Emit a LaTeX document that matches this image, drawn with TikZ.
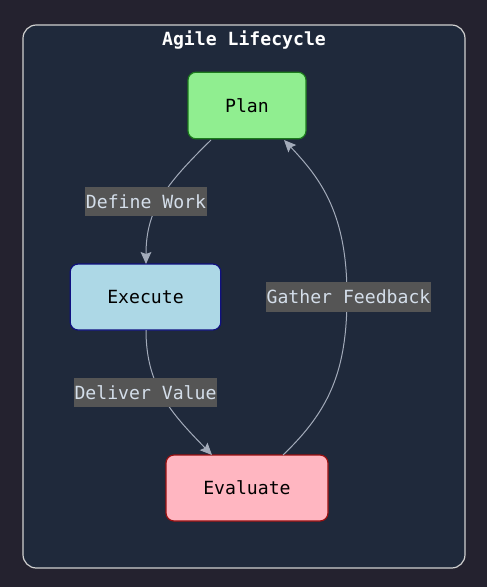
\documentclass[tikz,border=0pt]{standalone}
\usepackage{fontspec}
\setmonofont{DejaVu Sans Mono}
\usetikzlibrary{arrows.meta}
\definecolor{pagebg}{HTML}{24222F}
\definecolor{clusterbg}{HTML}{1F293B}
\definecolor{clusterline}{HTML}{D0D0D0}
\definecolor{edgecol}{HTML}{A3ABBA}
\definecolor{lblbg}{HTML}{555555}
\definecolor{lbltext}{HTML}{D4DEEA}
\definecolor{planfill}{HTML}{90EE90}
\definecolor{planline}{HTML}{1C7A1C}
\definecolor{execfill}{HTML}{ADD8E6}
\definecolor{execline}{HTML}{101080}
\definecolor{evalfill}{HTML}{FFB6C1}
\definecolor{evalline}{HTML}{9B1010}
\tikzset{
  box/.style={draw, line width=0.9pt, rounded corners=6pt, inner sep=0pt,
    font=\ttfamily\fontsize{13.6}{15}\selectfont, text=black},
  edgelbl/.style={fill=lblbg, text=lbltext, inner sep=0pt, minimum height=22pt,
    font=\ttfamily\fontsize{13.6}{15}\selectfont},
  conn/.style={draw=edgecol, line width=0.75pt, -{Stealth[length=9pt,width=8pt,inset=1.5pt,fill=edgecol]}}
}
\begin{document}
\begin{tikzpicture}[x=0.75pt,y=-0.75pt]
\fill[pagebg] (0,0) rectangle (487,587);
\useasboundingbox (0,0) rectangle (487,587);
\draw[clusterline, fill=clusterbg, line width=0.9pt, rounded corners=10pt] (23,25) rectangle (465,568);
\node[text=white, font=\ttfamily\bfseries\fontsize{13.6}{15}\selectfont] (title) at (244,40) {Agile Lifecycle};

\node[box, fill=planfill, draw=planline, minimum width=88.5pt, minimum height=50pt] (plan) at (247,105.5) {Plan};
\node[box, fill=execfill, draw=execline, minimum width=113pt, minimum height=49.5pt] (exec) at (145.5,297) {Execute};
\node[box, fill=evalfill, draw=evalline, minimum width=121.5pt, minimum height=49.5pt] (eval) at (247,488) {Evaluate};

\coordinate (a1) at (211,140);
\coordinate (a2) at (146,264);
\coordinate (b1) at (146,330);
\coordinate (b2) at (212,455);
\coordinate (c1) at (283,455);
\coordinate (c2) at (347,296);
\coordinate (c3) at (284,140);

\draw[conn] (a1) .. controls (165,185) and (146,210) .. (a2);
\draw[conn] (b1) .. controls (146,385) and (170,412) .. (b2);
\draw[conn] (c1) .. controls (330,410) and (347,370) .. (c2) .. controls (347,215) and (322,180) .. (c3);

\node[edgelbl, minimum width=91pt] (l1) at (146,201.5) {Define Work};
\node[edgelbl, minimum width=107pt] (l2) at (145.5,392.5) {Deliver Value};
\node[edgelbl, minimum width=124pt] (l3) at (348.5,297) {Gather Feedback};
\end{tikzpicture}
\end{document}
